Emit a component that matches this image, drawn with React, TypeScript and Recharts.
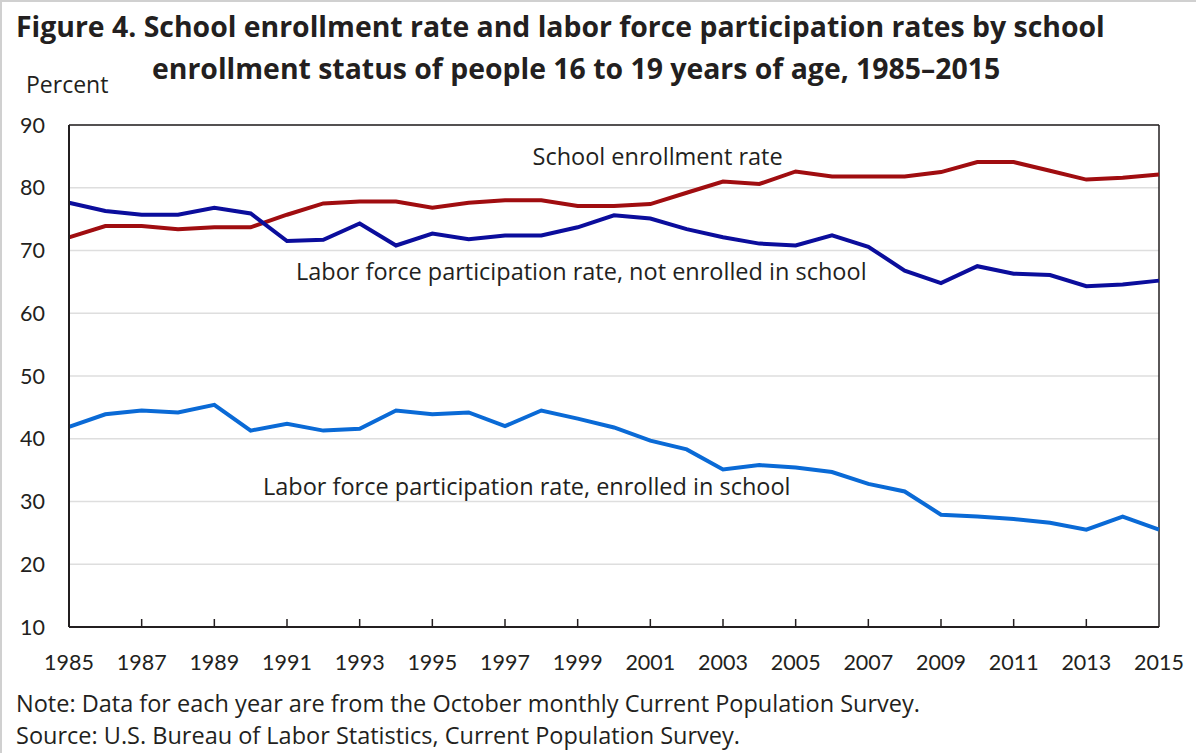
import { CartesianGrid, Line, LineChart, ReferenceDot, ReferenceLine, XAxis, YAxis } from 'recharts';

const years = [
  1985, 1986, 1987, 1988, 1989, 1990, 1991, 1992, 1993, 1994, 1995, 1996, 1997, 1998, 1999, 2000,
  2001, 2002, 2003, 2004, 2005, 2006, 2007, 2008, 2009, 2010, 2011, 2012, 2013, 2014, 2015,
];

const enrollmentRate = [
  72.1, 73.9, 73.9, 73.4, 73.7, 73.7, 75.7, 77.5, 77.8, 77.8, 76.8, 77.6, 78.0, 78.0, 77.1, 77.1,
  77.4, 79.2, 81.0, 80.6, 82.6, 81.8, 81.8, 81.8, 82.5, 84.1, 84.1, 82.7, 81.3, 81.6, 82.1,
];

const notEnrolledLfpr = [
  77.6, 76.3, 75.7, 75.7, 76.8, 75.9, 71.5, 71.7, 74.3, 70.8, 72.7, 71.8, 72.4, 72.4, 73.7, 75.6,
  75.1, 73.4, 72.1, 71.1, 70.8, 72.4, 70.6, 66.8, 64.8, 67.5, 66.3, 66.1, 64.3, 64.6, 65.2,
];

const enrolledLfpr = [
  41.9, 43.9, 44.5, 44.2, 45.4, 41.3, 42.4, 41.3, 41.6, 44.5, 43.9, 44.2, 42.0, 44.5, 43.2, 41.8,
  39.7, 38.3, 35.1, 35.8, 35.4, 34.7, 32.8, 31.6, 27.9, 27.6, 27.2, 26.6, 25.5, 27.6, 25.5,
];

const xTicks = [1985, 1987, 1989, 1991, 1993, 1995, 1997, 1999, 2001, 2003, 2005, 2007, 2009, 2011, 2013, 2015];
const yTicks = [10, 20, 30, 40, 50, 60, 70, 80, 90];

const data = years.map((year, i) => ({
  year,
  enrollment: enrollmentRate[i],
  notEnrolled: notEnrolledLfpr[i],
  enrolled: enrolledLfpr[i],
}));

const font = '"Open Sans", Lato, sans-serif';
const tickFont = 'Lato, "Open Sans", sans-serif';
const textColor = '#231f20';

function YearTick(props: any) {
  const { x, y, payload } = props;
  return (
    <g>
      {payload.value !== 1985 && payload.value !== 2015 && (
        <line x1={x} x2={x} y1={y} y2={y - 8} stroke="#231f20" strokeWidth={1.5} />
      )}
      <text x={x} y={y + 43} textAnchor="middle" fontSize={21.5} fontFamily={tickFont} fill={textColor}>
        {payload.value}
      </text>
    </g>
  );
}

function label(text: string) {
  return {
    value: text,
    position: 'center' as const,
    fontSize: 23.5,
    fontFamily: font,
    fill: textColor,
  };
}

export default function App() {
  return (
    <div
      style={{
        position: 'absolute',
        left: 0,
        top: 0,
        width: 1196,
        height: 753,
        background: '#fff',
        fontFamily: font,
        color: textColor,
        boxSizing: 'border-box',
        borderLeft: '2px solid #d0d0d0',
        borderTop: '2px solid #d0d0d0',
      }}
    >
      <div style={{ position: 'absolute', left: 14, top: 5, fontSize: 28.4, fontWeight: 700, whiteSpace: 'nowrap' }}>
        Figure 4. School enrollment rate and labor force participation rates by school
      </div>
      <div style={{ position: 'absolute', left: 150, top: 47, fontSize: 28.4, fontWeight: 700, whiteSpace: 'nowrap' }}>
        enrollment status of people 16 to 19 years of age, 1985–2015
      </div>
      <div style={{ position: 'absolute', left: 24, top: 66, fontSize: 23, whiteSpace: 'nowrap' }}>Percent</div>

      <div style={{ position: 'absolute', left: -2, top: -2 }}>
        <LineChart width={1196} height={700} data={data} margin={{ top: 125, right: 37, bottom: 0, left: 0 }}>
          <CartesianGrid horizontal vertical={false} stroke="#dedede" strokeWidth={1.5} />
          <XAxis
            dataKey="year"
            type="number"
            domain={[1985, 2015]}
            ticks={xTicks}
            interval={0}
            tickSize={0}
            tickMargin={0}
            tickLine={false}
            height={73}
            axisLine={{ stroke: '#231f20', strokeWidth: 2 }}
            tick={<YearTick />}
          />
          <YAxis
            type="number"
            domain={[10, 90]}
            ticks={yTicks}
            interval={0}
            width={69}
            tickSize={0}
            tickMargin={24}
            tickLine={false}
            axisLine={{ stroke: '#231f20', strokeWidth: 2 }}
            tick={{ fontSize: 21.5, fontFamily: tickFont, fill: textColor }}
          />
          <ReferenceLine y={90} stroke="#231f20" strokeWidth={1.5} />
          <ReferenceLine x={2015} stroke="#231f20" strokeWidth={1.5} />
          <Line
            type="linear"
            dataKey="enrollment"
            stroke="#a00d10"
            strokeWidth={4}
            dot={false}
            isAnimationActive={false}
          />
          <Line
            type="linear"
            dataKey="notEnrolled"
            stroke="#0b0d9c"
            strokeWidth={4}
            dot={false}
            isAnimationActive={false}
          />
          <Line
            type="linear"
            dataKey="enrolled"
            stroke="#0a6ad6"
            strokeWidth={4}
            dot={false}
            isAnimationActive={false}
          />
          <ReferenceDot x={2001.2} y={84.9} r={0} label={label('School enrollment rate')} />
          <ReferenceDot
            x={1999.1}
            y={66.7}
            r={0}
            label={label('Labor force participation rate, not enrolled in school')}
          />
          <ReferenceDot
            x={1997.6}
            y={32.3}
            r={0}
            label={label('Labor force participation rate, enrolled in school')}
          />
        </LineChart>
      </div>

      <div style={{ position: 'absolute', left: 14, top: 685, fontSize: 23.5, whiteSpace: 'nowrap' }}>
        Note: Data for each year are from the October monthly Current Population Survey.
      </div>
      <div style={{ position: 'absolute', left: 14, top: 717, fontSize: 23.5, whiteSpace: 'nowrap' }}>
        Source: U.S. Bureau of Labor Statistics, Current Population Survey.
      </div>
    </div>
  );
}
